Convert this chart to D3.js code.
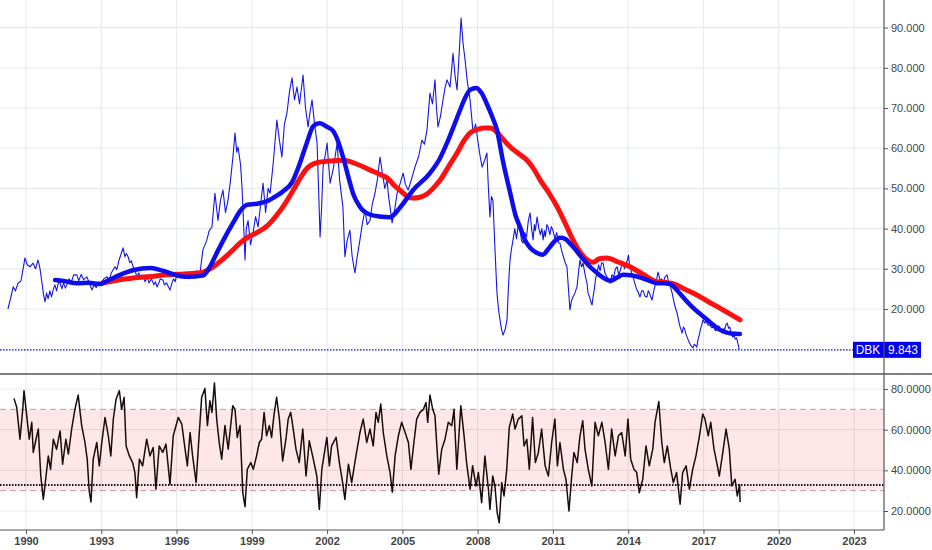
<!DOCTYPE html>
<html><head><meta charset="utf-8">
<script src="https://cdn.jsdelivr.net/npm/d3@7"></script>
<style>body{margin:0;background:#fff}svg{display:block;font-family:"Liberation Sans",Arial,sans-serif}</style>
</head><body><svg id="c" width="932" height="550"></svg>
<script>
// ---- data (decimal year, value) ----
const price = [[1989.28,20],[1989.40,23],[1989.49,25.5],[1989.58,24.5],[1989.68,26.4],[1989.80,27],[1989.96,32.7],[1990.05,31],[1990.16,30.5],[1990.28,31.4],[1990.38,30],[1990.48,32.2],[1990.56,30],[1990.64,26.4],[1990.70,23.5],[1990.76,21.8],[1990.82,24],[1990.88,22.5],[1990.95,24.5],[1991.02,23],[1991.08,24.7],[1991.15,26],[1991.22,24.5],[1991.30,26.8],[1991.36,26.4],[1991.43,25],[1991.5,26.5],[1991.57,25.2],[1991.63,26],[1991.72,27.5],[1991.8,26.5],[1991.9,28.5],[1992.03,28.5],[1992.1,27],[1992.2,28.6],[1992.3,27.3],[1992.43,28],[1992.5,26.8],[1992.55,26],[1992.63,24.7],[1992.7,26],[1992.8,25.3],[1992.88,26.8],[1992.95,26],[1993.1,27.5],[1993.23,28],[1993.32,27.2],[1993.4,29],[1993.55,30.5],[1993.62,29.8],[1993.7,32],[1993.78,33.5],[1993.87,35.2],[1993.94,33],[1994.0,33.8],[1994.07,33],[1994.14,31.5],[1994.2,32],[1994.27,30.5],[1994.34,29.7],[1994.42,28],[1994.5,29],[1994.58,27.5],[1994.66,28],[1994.75,26.8],[1994.83,28],[1994.9,26.5],[1995.0,27.5],[1995.1,26],[1995.16,26.8],[1995.22,25.5],[1995.3,26.5],[1995.35,27.5],[1995.46,27.2],[1995.52,26],[1995.6,26.5],[1995.68,25.5],[1995.74,24.7],[1995.82,26.5],[1995.88,27.5],[1995.95,26.8],[1996.02,29],[1996.1,28],[1996.2,29],[1996.3,27.8],[1996.42,28.5],[1996.5,27.5],[1996.6,29],[1996.7,28.2],[1996.8,29.5],[1996.88,28.5],[1996.94,29.2],[1997.05,34.7],[1997.2,37],[1997.3,39.5],[1997.41,40.4],[1997.53,48.8],[1997.65,42],[1997.75,47],[1997.85,49.6],[1997.95,44],[1998.05,47],[1998.15,52],[1998.25,58],[1998.33,63.8],[1998.40,59],[1998.45,60.3],[1998.55,56],[1998.61,50.3],[1998.68,40],[1998.73,32.2],[1998.78,40],[1998.85,42],[1998.95,36],[1999.05,38.9],[1999.15,43],[1999.25,40.4],[1999.35,46],[1999.45,51.3],[1999.55,44],[1999.65,50],[1999.73,48.8],[1999.85,56],[2000.0,67],[2000.10,62],[2000.20,57.8],[2000.30,66],[2000.40,68.7],[2000.50,74],[2000.60,77.5],[2000.70,72],[2000.80,75.2],[2000.90,71],[2001.04,78.2],[2001.14,70],[2001.24,65.3],[2001.32,69],[2001.40,72],[2001.50,66],[2001.60,61.3],[2001.66,50],[2001.72,37.9],[2001.78,45],[2001.84,55.3],[2001.92,58],[2002.00,61.3],[2002.06,56],[2002.12,51.3],[2002.25,55],[2002.40,61.3],[2002.50,52],[2002.63,45.4],[2002.71,33],[2002.8,37],[2002.91,39.6],[2003.0,33],[2003.11,29],[2003.2,33],[2003.31,37.2],[2003.4,41],[2003.51,44.6],[2003.6,41],[2003.71,42],[2003.8,46],[2003.91,48.8],[2004.0,52],[2004.11,57.8],[2004.2,54],[2004.3,50],[2004.39,52],[2004.45,48],[2004.51,45.4],[2004.59,41.4],[2004.7,45],[2004.79,48.8],[2004.9,51],[2005.03,53.8],[2005.12,51],[2005.23,49.6],[2005.35,52],[2005.50,55.3],[2005.65,58],[2005.78,62],[2005.88,61],[2005.98,64.5],[2006.10,73.7],[2006.20,71],[2006.30,77],[2006.36,70],[2006.42,65.3],[2006.52,68],[2006.62,72],[2006.70,75],[2006.78,77],[2006.90,75.2],[2007.02,83.6],[2007.10,78],[2007.18,74.5],[2007.26,83],[2007.34,92.4],[2007.42,86],[2007.50,82],[2007.58,77],[2007.70,72],[2007.82,63.8],[2007.92,66],[2008.02,61.3],[2008.10,58],[2008.18,55.3],[2008.28,57],[2008.37,58.8],[2008.43,50],[2008.49,42.9],[2008.55,48],[2008.61,47],[2008.69,35],[2008.77,24],[2008.83,20],[2008.89,17.3],[2008.95,15],[2009.01,13.5],[2009.10,15],[2009.17,17.3],[2009.23,26],[2009.29,32.2],[2009.35,35],[2009.41,37.2],[2009.48,40],[2009.55,37.5],[2009.62,41],[2009.69,39.6],[2009.75,37],[2009.81,36.4],[2009.88,39],[2009.95,38],[2010.02,42],[2010.09,43.9],[2010.15,40],[2010.21,37.2],[2010.26,41],[2010.30,39.5],[2010.37,42.9],[2010.44,40],[2010.5,38.5],[2010.56,40],[2010.61,37.2],[2010.66,39.5],[2010.70,38],[2010.76,41],[2010.81,40.4],[2010.88,38.5],[2010.94,40.5],[2011.00,39.6],[2011.08,37.5],[2011.15,39],[2011.22,36.5],[2011.28,36.4],[2011.35,34.5],[2011.42,33],[2011.49,31.5],[2011.56,30.5],[2011.62,25],[2011.68,19.8],[2011.74,22],[2011.80,23],[2011.88,24],[2011.96,25.5],[2012.02,29],[2012.08,32.2],[2012.14,30.5],[2012.20,31.4],[2012.30,28],[2012.36,26.4],[2012.40,24],[2012.46,23],[2012.50,22],[2012.56,21],[2012.60,23],[2012.65,25],[2012.70,27.5],[2012.76,29],[2012.82,31],[2012.88,29.5],[2012.94,31.5],[2013.00,31.4],[2013.07,29],[2013.15,28],[2013.22,27.5],[2013.28,26.4],[2013.35,28.5],[2013.42,28],[2013.49,30],[2013.56,30.5],[2013.62,28.5],[2013.68,29.5],[2013.74,31],[2013.79,31.4],[2013.85,30],[2013.90,31],[2013.96,32],[2014.01,33.4],[2014.06,30.5],[2014.10,30],[2014.15,28.5],[2014.19,28],[2014.26,26.5],[2014.33,25],[2014.40,24.2],[2014.47,23],[2014.54,24.5],[2014.6,24.5],[2014.67,23.2],[2014.75,23],[2014.80,24.5],[2014.85,24],[2014.9,23],[2014.95,22.2],[2015.02,24.5],[2015.08,26],[2015.14,27.5],[2015.19,29.2],[2015.24,28],[2015.28,27],[2015.34,27.5],[2015.39,26.4],[2015.47,28],[2015.55,28.5],[2015.60,27],[2015.65,26],[2015.70,25.2],[2015.75,24],[2015.80,22.5],[2015.85,21],[2015.90,20],[2015.95,19],[2016.0,17.5],[2016.05,16],[2016.10,15],[2016.15,14],[2016.20,15.5],[2016.25,15],[2016.30,13.8],[2016.35,13],[2016.40,12.2],[2016.45,11.5],[2016.51,10.8],[2016.58,10.3],[2016.63,11.2],[2016.68,11],[2016.73,10.5],[2016.78,12.3],[2016.83,13.5],[2016.88,15],[2016.93,16],[2016.98,17.3],[2017.05,16.5],[2017.10,17],[2017.18,16],[2017.26,16],[2017.33,15.3],[2017.40,15.5],[2017.47,14.6],[2017.54,14.8],[2017.6,15.8],[2017.65,15.5],[2017.71,14.3],[2017.77,14],[2017.82,15.2],[2017.85,15],[2017.9,16.2],[2017.95,16.5],[2018.0,15.2],[2018.05,15.5],[2018.1,14],[2018.17,13],[2018.22,13.4],[2018.27,12.5],[2018.32,12.8],[2018.37,11.5],[2018.40,10.8],[2018.42,9.843]];

const maFast = [[1991.16,27.2],[1991.5,27.0],[1992.03,26.4],[1992.5,26.5],[1992.95,26.2],[1993.3,27.2],[1993.75,28.5],[1994.3,29.7],[1994.95,30.2],[1995.3,29.8],[1995.6,29.2],[1996.0,28.4],[1996.4,28],[1997.05,28.3],[1997.3,30.2],[1997.6,33.9],[1997.9,37.5],[1998.25,41.4],[1998.55,44.5],[1998.8,45.9],[1999.2,46.2],[1999.6,46.8],[2000.0,48.2],[2000.25,49.3],[2000.6,51.5],[2000.9,56],[2001.2,61.5],[2001.45,65.5],[2001.7,66.2],[2002.0,65.3],[2002.25,64.2],[2002.45,61.5],[2002.65,57.5],[2002.85,52.8],[2003.05,48.5],[2003.3,45.5],[2003.7,43.5],[2004.1,43],[2004.5,42.8],[2004.9,45.2],[2005.43,49.6],[2006.1,53.8],[2006.5,57.5],[2006.78,61.3],[2007.05,65.5],[2007.3,69.5],[2007.5,72.5],[2007.7,74.5],[2007.95,75],[2008.15,73.8],[2008.37,71],[2008.6,67.5],[2008.77,64.5],[2009.0,57],[2009.3,48.8],[2009.5,43.5],[2009.7,40.2],[2009.9,37],[2010.1,35.2],[2010.35,34],[2010.6,33.5],[2010.8,34.8],[2011.0,36.4],[2011.3,37.7],[2011.5,37.4],[2011.7,36.2],[2011.9,34.8],[2012.1,33.2],[2012.4,31],[2012.75,29],[2013.0,27.8],[2013.27,27],[2013.55,27.8],[2013.8,28.5],[2014.1,28.4],[2014.5,27.8],[2014.85,27],[2015.15,26.4],[2015.4,26.4],[2015.67,26.2],[2015.9,25],[2016.07,23.8],[2016.35,21.8],[2016.6,20.2],[2016.9,18.6],[2017.15,17.3],[2017.4,16],[2017.66,14.8],[2017.9,14.2],[2018.1,13.9],[2018.45,13.8]];

const maSlow = [[1993.03,26.4],[1993.5,27],[1994.27,27.7],[1995.0,28.1],[1995.6,28.5],[1996.3,28.7],[1996.94,29],[1997.46,30.5],[1997.85,32.4],[1998.25,34.7],[1998.55,36.5],[1998.8,37.7],[1999.2,39],[1999.6,40.6],[1999.95,43],[2000.24,45.4],[2000.55,48.5],[2000.92,52.5],[2001.2,55],[2001.6,56.4],[2002.1,56.8],[2002.64,57],[2003.2,56],[2003.7,54.6],[2004.1,53.5],[2004.4,52.6],[2004.7,50.6],[2004.95,49.3],[2005.2,48],[2005.43,47.6],[2005.7,47.8],[2005.98,48.6],[2006.25,50.2],[2006.5,52],[2006.85,55.5],[2007.18,58.8],[2007.45,61.8],[2007.7,63.8],[2008.0,64.7],[2008.3,65],[2008.5,65],[2008.77,64],[2009.0,62.3],[2009.3,60.3],[2009.6,58.8],[2009.97,57],[2010.25,54.7],[2010.5,52],[2010.85,48.8],[2011.17,45.4],[2011.5,41.2],[2011.8,37.2],[2012.08,34.2],[2012.35,32.3],[2012.6,31.6],[2012.85,32.5],[2013.15,32.7],[2013.6,31.7],[2014.07,30.5],[2014.6,28.6],[2015.15,26.8],[2015.5,26.6],[2015.8,26.3],[2016.2,25.1],[2016.74,23.5],[2017.2,21.8],[2017.66,20.2],[2018.1,18.6],[2018.46,17.3]];

const rsi = [[1989.52,75.4],[1989.63,71],[1989.76,55.3],[1989.87,70],[1989.92,79.2],[1990.03,66.8],[1990.13,55.3],[1990.23,63.6],[1990.29,48.8],[1990.40,55.3],[1990.49,60.3],[1990.59,37.2],[1990.69,25.7],[1990.80,37.2],[1990.89,47.1],[1990.98,40.5],[1991.09,55.3],[1991.22,50.4],[1991.36,59.4],[1991.46,43],[1991.59,55.3],[1991.69,48],[1991.82,60.3],[1991.95,70],[1992.08,77],[1992.22,62],[1992.35,53.7],[1992.44,45.5],[1992.52,29.8],[1992.59,24.4],[1992.68,45.5],[1992.82,53.7],[1992.92,42.2],[1993.02,53.7],[1993.15,66],[1993.28,57],[1993.38,47.1],[1993.48,65.2],[1993.59,75],[1993.72,79.2],[1993.81,70],[1993.91,75.9],[1993.99,52],[1994.12,47.1],[1994.25,43.8],[1994.34,38.9],[1994.41,26.5],[1994.52,45.5],[1994.65,42.2],[1994.81,55.3],[1994.94,47.1],[1995.07,51.2],[1995.18,30.7],[1995.31,52],[1995.45,48.8],[1995.58,52.9],[1995.74,33.1],[1995.87,57],[1996.07,66],[1996.21,62.7],[1996.34,50.4],[1996.43,42.2],[1996.54,58.6],[1996.64,47.1],[1996.78,34],[1996.88,53.7],[1997.00,75.9],[1997.13,80.3],[1997.23,62],[1997.33,74.2],[1997.41,68.5],[1997.51,83],[1997.60,65.2],[1997.70,53.7],[1997.80,45.5],[1997.93,62],[1998.06,50.4],[1998.24,71.8],[1998.33,70],[1998.42,56.2],[1998.53,62],[1998.64,29],[1998.73,22.1],[1998.82,40.5],[1998.96,43.8],[1999.06,40.5],[1999.19,47.1],[1999.30,53.7],[1999.39,55.3],[1999.49,68.5],[1999.59,57],[1999.70,62],[1999.79,56.2],[1999.88,66.8],[1999.99,75.9],[2000.10,65.2],[2000.23,44.6],[2000.36,55.3],[2000.45,65.2],[2000.55,68.5],[2000.65,60.3],[2000.76,50.4],[2000.89,43.8],[2001.03,60.3],[2001.16,37.2],[2001.29,54.5],[2001.45,45.5],[2001.59,37.2],[2001.69,20.8],[2001.79,40.5],[2001.99,56.2],[2002.09,42.2],[2002.18,52],[2002.36,56.2],[2002.49,43.8],[2002.62,34],[2002.71,25.7],[2002.85,43],[2002.98,34],[2003.15,47.1],[2003.31,58.6],[2003.44,65.2],[2003.58,53.7],[2003.71,60.3],[2003.84,52],[2003.95,68.5],[2004.04,63.6],[2004.14,72.6],[2004.24,58.6],[2004.38,47.1],[2004.51,38.9],[2004.60,29.3],[2004.71,47.1],[2004.84,57],[2004.97,63.6],[2005.11,58.6],[2005.24,53.7],[2005.34,40.5],[2005.46,53.7],[2005.57,65.2],[2005.70,68.5],[2005.84,70],[2005.94,73.4],[2006.01,63.6],[2006.10,77],[2006.21,70],[2006.30,66.8],[2006.39,48.8],[2006.45,38.1],[2006.57,50.4],[2006.70,55.3],[2006.83,63.6],[2006.97,62],[2007.06,70],[2007.17,40.5],[2007.33,71.8],[2007.46,57],[2007.56,43.8],[2007.70,30.7],[2007.80,42.2],[2007.94,32.3],[2008.03,38.9],[2008.16,24.1],[2008.29,47.1],[2008.43,30.7],[2008.49,20.8],[2008.60,37.2],[2008.69,32.3],[2008.78,19.1],[2008.86,14.2],[2008.96,34],[2009.05,27.4],[2009.16,40.5],[2009.26,61.1],[2009.40,67.7],[2009.49,60.3],[2009.62,65.2],[2009.76,66.8],[2009.85,52],[2009.96,55.3],[2010.06,40.5],[2010.19,66],[2010.30,43.8],[2010.42,48.8],[2010.55,60.3],[2010.69,42.2],[2010.82,37.2],[2010.95,53.7],[2011.08,65.2],[2011.18,42.2],[2011.28,53.7],[2011.42,40.5],[2011.52,35.6],[2011.64,20],[2011.75,37.2],[2011.84,48.8],[2011.97,43.8],[2012.08,57],[2012.19,64.4],[2012.28,50.4],[2012.41,40.5],[2012.55,32.3],[2012.68,63.6],[2012.81,57],[2012.95,63.6],[2013.08,53.7],[2013.21,40.5],[2013.34,60.3],[2013.48,47.1],[2013.61,57],[2013.74,58.6],[2013.88,47.1],[2013.99,65.2],[2014.10,45.5],[2014.23,40.5],[2014.34,38.9],[2014.44,29],[2014.58,35.6],[2014.71,52],[2014.84,42.2],[2014.98,50.4],[2015.07,63.6],[2015.22,73.8],[2015.34,53.7],[2015.44,43.8],[2015.56,52],[2015.70,40.5],[2015.80,34],[2015.93,38.9],[2016.07,23.3],[2016.17,38.9],[2016.31,42.2],[2016.44,30.7],[2016.57,40.5],[2016.70,47.1],[2016.84,57],[2016.97,67.7],[2017.06,65.2],[2017.19,57],[2017.29,63.6],[2017.42,50.4],[2017.53,43.8],[2017.63,37.2],[2017.77,48.8],[2017.90,60.3],[2018.03,50.4],[2018.13,32.3],[2018.26,35.6],[2018.35,27.4],[2018.44,32.8],[2018.46,24.4]];

const yearTicks = [1990,1993,1996,1999,2002,2005,2008,2011,2014,2017,2020,2023];
const priceTicks = [20,30,40,50,60,70,80,90];
const rsiTicks = [20,40,60,80];
const rsiBands = [30,70];
const rsiLast = 32.8;
const lastPrice = 9.843;
const symbol = "DBK";

// ---- helpers ----
function toDate(y){const yr=Math.floor(y);const s=Date.UTC(yr,0,1),e=Date.UTC(yr+1,0,1);return new Date(s+(y-yr)*(e-s));}

const W=932, axisX=884, topH=374, botTop=374, botB=530;
const svg=d3.select("#c");
const x=d3.scaleUtc().domain([toDate(1990),toDate(2023)]).range([26,854]);
const yP=d3.scaleLinear().domain([20,90]).range([309,27.6]);
const yR=d3.scaleLinear().domain([20,80]).range([511,389]);

const grid="#e7ebf0";
svg.append("defs").call(d=>{
  d.append("clipPath").attr("id","ct").append("rect").attr("x",0).attr("y",0).attr("width",axisX).attr("height",topH);
  d.append("clipPath").attr("id","cb").append("rect").attr("x",0).attr("y",botTop).attr("width",axisX).attr("height",botB-botTop);
});

// gridlines
const g=svg.append("g");
yearTicks.forEach(t=>{
  g.append("line").attr("x1",x(toDate(t))).attr("x2",x(toDate(t))).attr("y1",0).attr("y2",botB).attr("stroke",grid).attr("stroke-width",1.2);
});
priceTicks.forEach(t=>g.append("line").attr("x1",0).attr("x2",axisX).attr("y1",yP(t)).attr("y2",yP(t)).attr("stroke",grid).attr("stroke-width",1.2));
rsiTicks.forEach(t=>g.append("line").attr("x1",0).attr("x2",axisX).attr("y1",yR(t)).attr("y2",yR(t)).attr("stroke",grid).attr("stroke-width",1.2));

// RSI panel
const rb=svg.append("g").attr("clip-path","url(#cb)");
rb.append("rect").attr("x",0).attr("width",axisX).attr("y",yR(rsiBands[1])).attr("height",yR(rsiBands[0])-yR(rsiBands[1])).attr("fill","#f23645").attr("fill-opacity",0.12);
rsiBands.forEach(b=>rb.append("line").attr("x1",0).attr("x2",axisX).attr("y1",yR(b)).attr("y2",yR(b)).attr("stroke","#b9a0a0").attr("stroke-dasharray","6,4").attr("stroke-width",1));
rb.append("line").attr("x1",0).attr("x2",axisX).attr("y1",yR(rsiLast)).attr("y2",yR(rsiLast)).attr("stroke","#111").attr("stroke-width",2).attr("stroke-dasharray","1.5,1.5");
rb.append("path").datum(rsi).attr("fill","none").attr("stroke","#1a0c0c").attr("stroke-width",1.5).attr("stroke-linejoin","round")
  .attr("d",d3.line().x(d=>x(toDate(d[0]))).y(d=>yR(d[1])));

// price panel
const pt=svg.append("g").attr("clip-path","url(#ct)");
pt.append("line").attr("x1",0).attr("x2",853).attr("y1",yP(lastPrice)).attr("y2",yP(lastPrice)).attr("stroke","#0000ff").attr("stroke-width",1.2).attr("stroke-dasharray","1.5,1.5");
pt.append("path").datum(price).attr("fill","none").attr("stroke","#1515e8").attr("stroke-width",1.1).attr("stroke-linejoin","round")
  .attr("d",d3.line().x(d=>x(toDate(d[0]))).y(d=>yP(d[1])));
const smooth=d3.line().curve(d3.curveMonotoneX).x(d=>x(toDate(d[0]))).y(d=>yP(d[1]));
pt.append("path").datum(maSlow).attr("fill","none").attr("stroke","#ff1010").attr("stroke-width",5).attr("stroke-linecap","round").attr("d",smooth);
pt.append("path").datum(maFast).attr("fill","none").attr("stroke","#0d0dee").attr("stroke-width",4.5).attr("stroke-linecap","round").attr("d",smooth);

// last price label
const ly=yP(lastPrice);
svg.append("rect").attr("x",853).attr("y",ly-8).attr("width",68).attr("height",16).attr("fill","#0000ee");
svg.append("text").attr("x",868).attr("y",ly+4.5).attr("text-anchor","middle").attr("fill","#fff").attr("font-size",12).text(symbol);
svg.append("text").attr("x",903).attr("y",ly+4.5).attr("text-anchor","middle").attr("fill","#fff").attr("font-size",12).text(d3.format(".3f")(lastPrice));

// axes lines
const ax="#555";
svg.append("line").attr("x1",0).attr("x2",W).attr("y1",topH).attr("y2",topH).attr("stroke",ax).attr("stroke-width",1.5);
svg.append("line").attr("x1",axisX).attr("x2",axisX).attr("y1",0).attr("y2",botB).attr("stroke",ax).attr("stroke-width",1.2);
svg.append("line").attr("x1",0).attr("x2",axisX).attr("y1",botB).attr("y2",botB).attr("stroke",ax).attr("stroke-width",1.2);

// right axes via d3.axisRight
const axP=svg.append("g").attr("transform",`translate(${axisX},0)`).call(d3.axisRight(yP).tickValues(priceTicks).tickFormat(d3.format(".3f")).tickSize(4).tickPadding(3));
const axR=svg.append("g").attr("transform",`translate(${axisX},0)`).call(d3.axisRight(yR).tickValues(rsiTicks).tickFormat(d3.format(".4f")).tickSize(4).tickPadding(3));
[axP,axR].forEach(a=>{a.select(".domain").remove();a.selectAll("line").attr("stroke",ax);a.selectAll("text").attr("fill","#444").attr("font-size",11).attr("font-family","Liberation Sans, Arial, sans-serif");});

// bottom axis
const axB=svg.append("g").attr("transform",`translate(0,${botB})`).call(d3.axisBottom(x).tickValues(yearTicks.map(toDate)).tickFormat(d3.utcFormat("%Y")).tickSize(4).tickPadding(3));
axB.select(".domain").remove();
axB.selectAll("line").attr("stroke",ax);
axB.selectAll("text").attr("fill","#444").attr("font-size",11).attr("font-weight","bold").attr("font-family","Liberation Sans, Arial, sans-serif");
</script></body></html>
